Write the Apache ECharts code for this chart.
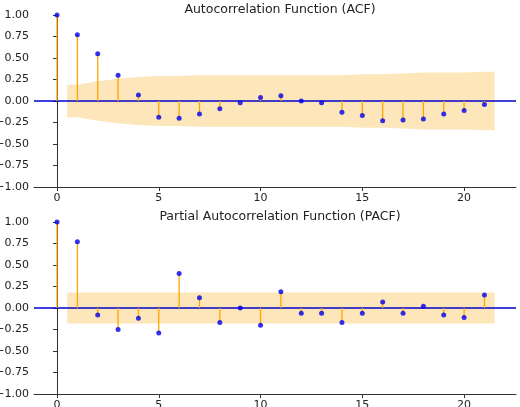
<!DOCTYPE html>
<html><head><meta charset="utf-8">
<script src="https://cdn.jsdelivr.net/npm/echarts@6/dist/echarts.min.js"></script>
<style>html,body{margin:0;padding:0;background:#fff}#c{width:520px;height:407px}</style>
</head><body><div id="c"></div>
<script>
var lags = [0,1,2,3,4,5,6,7,8,9,10,11,12,13,14,15,16,17,18,19,20,21];
var acf = [1.0,0.77,0.55,0.30,0.07,-0.19,-0.20,-0.15,-0.09,-0.02,0.04,0.06,0.00,-0.02,-0.13,-0.17,-0.23,-0.22,-0.21,-0.15,-0.11,-0.04];
var pacf = [1.0,0.77,-0.08,-0.25,-0.12,-0.29,0.40,0.12,-0.17,0.00,-0.20,0.19,-0.06,-0.06,-0.17,-0.06,0.07,-0.06,0.02,-0.08,-0.11,0.15];
var bandLags = [0.5,1,2,3,4,5,6,7,8,9,10,11,12,13,14,15,16,17,18,19,20,21,21.5];
var acfBand = [0.19,0.19,0.23,0.26,0.28,0.29,0.29,0.30,0.30,0.30,0.30,0.30,0.30,0.30,0.30,0.31,0.31,0.32,0.33,0.33,0.33,0.34,0.34];
var pacfBand = [0.18,0.18,0.18,0.18,0.18,0.18,0.18,0.18,0.18,0.18,0.18,0.18,0.18,0.18,0.18,0.18,0.18,0.18,0.18,0.18,0.18,0.18,0.18];
var xTicks = [0,5,10,15,20];

var font = "DejaVu Sans";
function fmt(v){ return v.toFixed(2).replace('-', '\u2212'); }

function axes(i){
  return {
    x: {type:'value', gridIndex:i, min:-1.13, max:22.55,
      axisLine:{show:true,onZero:false,lineStyle:{color:'#333',width:1}},
      axisTick:{show:true,length:4,customValues:xTicks,lineStyle:{color:'#333'}},
      axisLabel:{customValues:xTicks,color:'#222',fontFamily:font,fontSize:11,margin:6},
      splitLine:{show:false}},
    y: {type:'value', gridIndex:i, min:-1, max:1, interval:0.25,
      axisLine:{show:true,lineStyle:{color:'#333',width:1}},
      axisTick:{show:true,length:4,lineStyle:{color:'#333'}},
      axisLabel:{color:'#222',fontFamily:font,fontSize:11,margin:5,formatter:fmt},
      splitLine:{show:false}}
  };
}
var a0 = axes(0), a1 = axes(1);

function bandSeries(i, band){
  return {type:'custom', xAxisIndex:i, yAxisIndex:i, silent:true, z:1,
    data:[0],
    renderItem:function(params, api){
      var pts = [];
      for (var k=0;k<bandLags.length;k++) pts.push(api.coord([bandLags[k], band[k]]));
      for (var k=bandLags.length-1;k>=0;k--) pts.push(api.coord([bandLags[k], -band[k]]));
      return {type:'polygon', shape:{points:pts}, style:{fill:'#fde6b9'}};
    }};
}
function zeroSeries(i){
  return {type:'custom', xAxisIndex:i, yAxisIndex:i, silent:true, z:2, data:[0],
    renderItem:function(params, api){
      var p1 = api.coord([-1.13,0]), p2 = api.coord([22.55,0]);
      return {type:'line', shape:{x1:p1[0],y1:p1[1],x2:p2[0],y2:p2[1]}, style:{stroke:'#0000cc',lineWidth:1.5}};
    }};
}
function stemSeries(i, vals){
  return {type:'custom', xAxisIndex:i, yAxisIndex:i, silent:true, z:3,
    data: lags.map(function(l,k){ return [l, vals[k]]; }),
    renderItem:function(params, api){
      var p0 = api.coord([api.value(0),0]), p1 = api.coord([api.value(0),api.value(1)]);
      return {type:'line', shape:{x1:p0[0],y1:p0[1],x2:p1[0],y2:p1[1]}, style:{stroke:'#ffa500',lineWidth:1.3}};
    }};
}
function dotSeries(i, vals){
  return {type:'scatter', xAxisIndex:i, yAxisIndex:i, z:4, symbolSize:5, silent:true,
    itemStyle:{color:'#0000ee'},
    data: lags.map(function(l,k){ return [l, vals[k]]; })};
}

var chart = echarts.init(document.getElementById('c'));
chart.setOption({
  animation:false,
  title:[
    {text:'Autocorrelation Function (ACF)', left:275, top:-2, textAlign:'center',
     textStyle:{fontFamily:font,fontSize:12.5,fontWeight:'normal',color:'#222'}},
    {text:'Partial Autocorrelation Function (PACF)', left:275, top:205, textAlign:'center',
     textStyle:{fontFamily:font,fontSize:12.5,fontWeight:'normal',color:'#222'}}
  ],
  grid:[
    {left:34, right:4, top:15, height:172, outerBoundsMode:'none', containLabel:false},
    {left:34, right:4, top:222, height:172, outerBoundsMode:'none', containLabel:false}
  ],
  xAxis:[a0.x, a1.x],
  yAxis:[a0.y, a1.y],
  series:[
    bandSeries(0, acfBand), zeroSeries(0), stemSeries(0, acf), dotSeries(0, acf),
    bandSeries(1, pacfBand), zeroSeries(1), stemSeries(1, pacf), dotSeries(1, pacf)
  ]
});
</script></body></html>
